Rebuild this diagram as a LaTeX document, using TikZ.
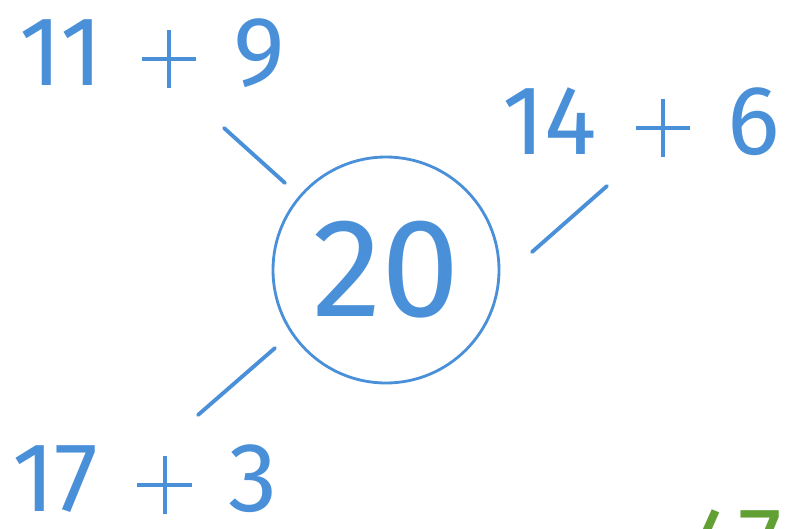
\documentclass[tikz,border=0pt]{standalone}
\usepackage{fontspec}
\setmainfont{Fira Sans}
\definecolor{numblue}{RGB}{74,144,217}
\definecolor{numgreen}{RGB}{98,160,52}
\newcommand{\plussign}{\hspace{22pt}\rlap{\rule[13.6pt]{31pt}{2.3pt}}\hspace{14.35pt}%
  \rule[-1.7pt]{2.3pt}{33pt}\hspace{14.35pt}\hspace{21pt}}

\begin{document}
\begin{tikzpicture}[x=0.02cm,y=-0.02cm]
\tikzset{
  sum/.style={text=numblue, inner sep=0pt, font=\fontsize{56}{62}\selectfont},
  link/.style={numblue, line width=2.2pt, line cap=round}
}

% frame
\useasboundingbox (0,0) rectangle (795,528);
\clip (0,0) rectangle (795,528);

% centre
\node[draw=numblue, line width=1.6pt, circle, minimum size=226*0.02cm,
  text=numblue, font=\fontsize{80}{90}\selectfont] (total) at (386,270) {20};

% sums
\node[sum, anchor=base west] (topleft) at (19,85) {11\plussign 9};
\node[sum, anchor=base west] (topright) at (502,154) {14\plussign 6};
\node[sum, anchor=base west] (bottomleft) at (12,511) {17\plussign 3};

% next number
\node[sum, text=numgreen, anchor=base west] (next) at (688,576) {47};

% links
\coordinate (tl1) at (224,128);
\coordinate (tl2) at (285,183);
\coordinate (tr1) at (607,186);
\coordinate (tr2) at (532,252);
\coordinate (bl1) at (275,348);
\coordinate (bl2) at (198,415);
\draw[link] (tl1) -- (tl2);
\draw[link] (tr1) -- (tr2);
\draw[link] (bl1) -- (bl2);

\end{tikzpicture}
\end{document}
